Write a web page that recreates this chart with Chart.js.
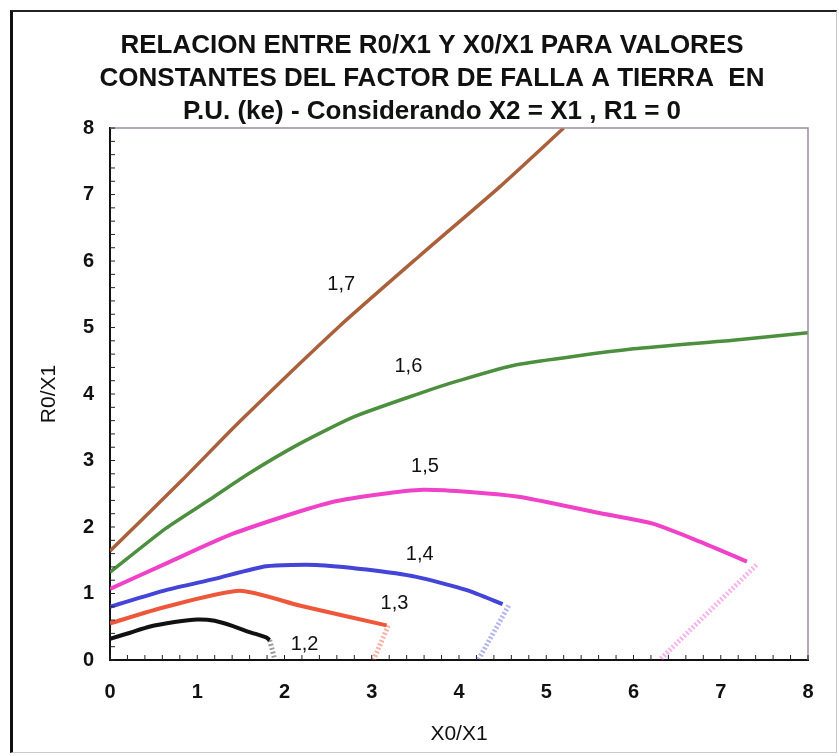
<!DOCTYPE html>
<html lang="es">

<head>
    <meta charset="UTF-8">
    <title>Relacion R0/X1 - X0/X1</title>
    <script src="https://cdn.jsdelivr.net/npm/chart.js"></script>
    <style>
        body { margin: 0; background: #fff; }
        .marco {
            position: absolute; left: 10px; top: 10px; width: 823px; height: 740px;
            border-left: 3px solid #111; border-top: 2px solid #222;
            border-right: 1px solid #c8c8c8; border-bottom: 1px solid #c8c8c8;
            pointer-events: none;
        }
        #grafico { position: absolute; left: 0; top: 0; }
    </style>
</head>

<body>
    <canvas id="grafico" width="839" height="756"></canvas>
    <div class="marco"></div>

<script>
    // curvas de ke constante
    var ke12X = [0, 0.23, 0.45, 0.74, 1.0, 1.2, 1.41, 1.6, 1.79, 1.83]
    var ke12Y = [0.32, 0.41, 0.50, 0.57, 0.61, 0.59, 0.51, 0.42, 0.34, 0.30]
    var ke13X = [0, 0.64, 1.49, 2.17, 3.17]
    var ke13Y = [0.55, 0.80, 1.04, 0.82, 0.52]
    var ke14X = [0, 0.64, 1.2, 1.79, 2.36, 2.94, 3.51, 4.09, 4.50]
    var ke14Y = [0.80, 1.05, 1.22, 1.41, 1.43, 1.36, 1.25, 1.05, 0.84]
    var ke15X = [0, 0.64, 1.41, 2.56, 3.59, 4.66, 5.61, 6.22, 6.76, 7.30]
    var ke15Y = [1.07, 1.45, 1.90, 2.38, 2.56, 2.46, 2.21, 2.05, 1.78, 1.48]
    var ke16X = [0, 0.64, 1.14, 1.56, 2.17, 2.8, 3.55, 3.97, 4.66, 6.0, 7.14, 8]
    var ke16Y = [1.32, 1.98, 2.41, 2.78, 3.25, 3.66, 4.01, 4.19, 4.44, 4.68, 4.81, 4.92]
    var ke17X = [0, 0.83, 1.49, 2.63, 3.55, 4.47, 5.2]
    var ke17Y = [1.64, 2.71, 3.59, 5.02, 6.08, 7.12, 8.0]

    // tramos rayados hasta el eje X
    var corte12X = [1.83, 1.89], corte12Y = [0.30, 0]
    var corte13X = [3.19, 3.02], corte13Y = [0.52, 0]
    var corte14X = [4.57, 4.22], corte14Y = [0.82, 0]
    var corte15X = [7.41, 6.30], corte15Y = [1.43, 0]

    // etiquetas de cada curva
    var etiquetas = ['1,2', '1,3', '1,4', '1,5', '1,6', '1,7']
    var etiquetaX = [2.23, 3.26, 3.55, 3.61, 3.42, 2.65]
    var etiquetaY = [0.24, 0.85, 1.58, 2.91, 4.42, 5.65]

    var ticksEjes = [0, 1, 2, 3, 4, 5, 6, 7, 8]

    function puntos(xs, ys) {
        var p = []
        for (var i = 0; i < xs.length; i++) {
            p.push({ x: xs[i], y: ys[i] })
        }
        return p
    }

    function curva(xs, ys, color, ancho) {
        return { data: puntos(xs, ys), borderColor: color, borderWidth: ancho, showLine: true, pointRadius: 0, tension: 0.2 }
    }

    function rayado(xs, ys, color) {
        return { data: puntos(xs, ys), borderColor: color, borderWidth: 5, borderDash: [2, 2], showLine: true, pointRadius: 0 }
    }

    // marcas menores hacia adentro, borde del area y etiquetas
    const extras = {
        id: 'extras',
        afterDatasetsDraw(chart) {
            const c = chart.ctx
            const a = chart.chartArea
            const sx = chart.scales.x
            const sy = chart.scales.y
            c.save()
            c.strokeStyle = '#9a8c9a'
            c.lineWidth = 1.5
            c.beginPath()
            c.moveTo(a.left, a.top)
            c.lineTo(a.right, a.top)
            c.lineTo(a.right, a.bottom)
            c.stroke()
            c.strokeStyle = '#222'
            c.lineWidth = 1
            for (var v = 0; v <= 8.001; v += 0.2) {
                var px = sx.getPixelForValue(v)
                c.beginPath()
                c.moveTo(px, a.bottom)
                c.lineTo(px, a.bottom - 5)
                c.stroke()
                var py = sy.getPixelForValue(v)
                c.beginPath()
                c.moveTo(a.left, py)
                c.lineTo(a.left + 5, py)
                c.stroke()
            }
            c.fillStyle = '#111'
            c.font = '20px "Liberation Sans", Arial, sans-serif'
            c.textAlign = 'center'
            c.textBaseline = 'middle'
            for (var i = 0; i < etiquetas.length; i++) {
                c.fillText(etiquetas[i], sx.getPixelForValue(etiquetaX[i]), sy.getPixelForValue(etiquetaY[i]))
            }
            c.restore()
        }
    }

    const ctx = document.getElementById('grafico')

    var grafico = new Chart(ctx, {
        type: 'scatter',
        data: {
            datasets: [
                curva(ke12X, ke12Y, '#111111', 4),
                curva(ke13X, ke13Y, '#ef573b', 4),
                curva(ke14X, ke14Y, '#4444d8', 4),
                curva(ke15X, ke15Y, '#ef42c8', 4),
                curva(ke16X, ke16Y, '#4c8f3e', 3.5),
                curva(ke17X, ke17Y, '#a9603b', 3.5),
                rayado(corte12X, corte12Y, 'rgba(60,60,60,0.5)'),
                rayado(corte13X, corte13Y, 'rgba(239,87,59,0.45)'),
                rayado(corte14X, corte14Y, 'rgba(68,68,216,0.4)'),
                rayado(corte15X, corte15Y, 'rgba(239,66,200,0.4)')
            ]
        },
        options: {
            responsive: false,
            animation: false,
            layout: { padding: { left: 56, right: 31, top: 0, bottom: 0 } },
            plugins: {
                legend: { display: false },
                tooltip: { enabled: false },
                title: {
                    display: true,
                    text: [
                        'RELACION ENTRE R0/X1 Y X0/X1 PARA VALORES',
                        'CONSTANTES DEL FACTOR DE FALLA A TIERRA  EN',
                        'P.U. (ke) - Considerando X2 = X1 , R1 = 0'
                    ],
                    color: '#111',
                    font: { family: '"Liberation Sans Narrow", "Liberation Sans", Arial', size: 26, weight: 'bold', lineHeight: 1.27 },
                    padding: { top: 29, bottom: 0 }
                }
            },
            scales: {
                x: {
                    type: 'linear',
                    min: 0,
                    max: 8,
                    afterBuildTicks: function (s) { s.ticks = ticksEjes.map(function (v) { return { value: v } }) },
                    afterFit: function (s) { s.height = 96 },
                    grid: { display: false, drawTicks: false },
                    border: { color: '#111', width: 2 },
                    ticks: { color: '#111', padding: 20, font: { family: '"Liberation Sans", Arial', size: 20, weight: 'bold' } },
                    title: { display: true, text: 'X0/X1', color: '#111', padding: { top: 0, bottom: 9 }, font: { family: '"Liberation Sans", Arial', size: 21 } }
                },
                y: {
                    type: 'linear',
                    min: 0,
                    max: 8,
                    afterBuildTicks: function (s) { s.ticks = ticksEjes.map(function (v) { return { value: v } }) },
                    afterFit: function (s) { s.width = 54 },
                    grid: { display: false, drawTicks: false },
                    border: { color: '#111', width: 2 },
                    ticks: { color: '#111', padding: 16, font: { family: '"Liberation Sans", Arial', size: 20, weight: 'bold' } },
                    title: { display: true, text: 'R0/X1', color: '#111', padding: { top: -19, bottom: 0 }, font: { family: '"Liberation Sans", Arial', size: 21 } }
                }
            }
        },
        plugins: [extras]
    })
</script>

</body>

</html>
